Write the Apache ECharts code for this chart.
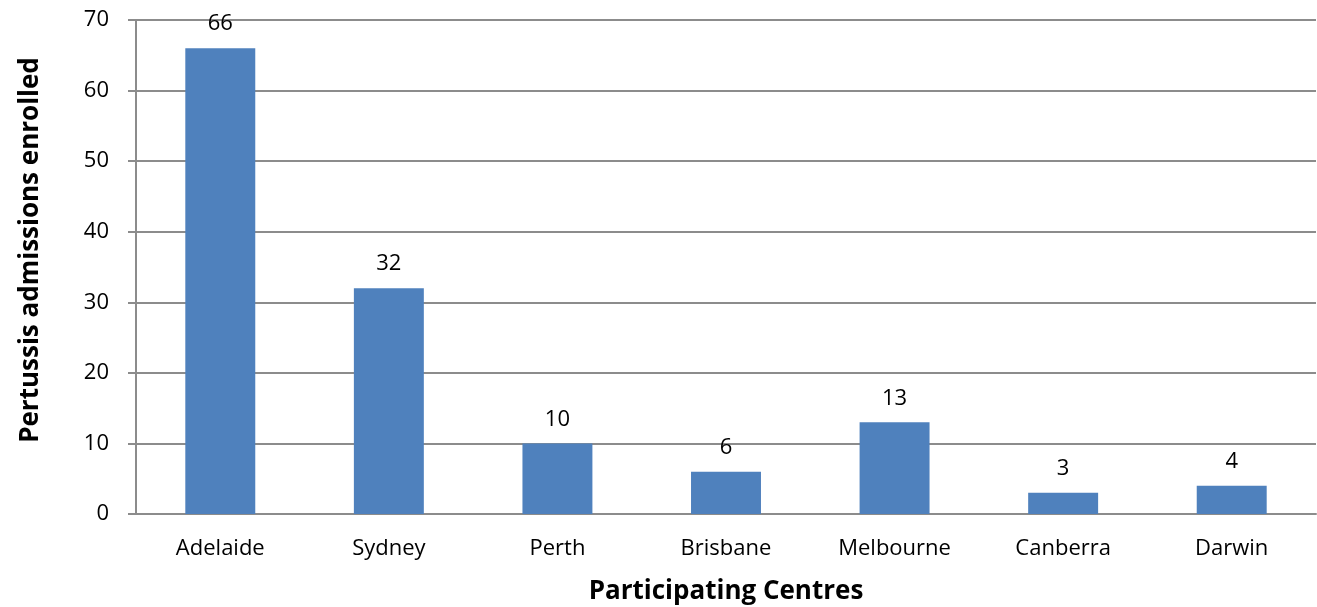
<!DOCTYPE html>
<html><head><meta charset="utf-8">
<script src="https://cdn.jsdelivr.net/npm/echarts@6/dist/echarts.min.js"></script>
<style>html,body{margin:0;padding:0;background:#fff}#c{width:1317px;height:607px}</style>
</head><body><div id="c"></div>
<script>
const categories = ["Adelaide","Sydney","Perth","Brisbane","Melbourne","Canberra","Darwin"];
const values = [66,32,10,6,13,3,4];
const yTicks = {min:0,max:70,interval:10};
const font = "'Open Sans', sans-serif";
const chart = echarts.init(document.getElementById('c'));
chart.setOption({
  animation:false,
  grid:{left:136,right:1,top:20,bottom:93,containLabel:false,outerBoundsMode:'none'},
  xAxis:{type:'category',data:categories,
    axisLine:{lineStyle:{color:'#8c8c8c',width:2}},
    axisTick:{show:false},
    axisLabel:{color:'#000',fontSize:22,fontFamily:font,margin:24},
    name:'Participating Centres',nameLocation:'middle',nameGap:65,
    nameTextStyle:{color:'#000',fontSize:26,fontWeight:'bold',fontFamily:font}},
  yAxis:{type:'value',min:yTicks.min,max:yTicks.max,interval:yTicks.interval,
    axisLine:{show:true,lineStyle:{color:'#8c8c8c',width:2}},
    axisTick:{show:true,length:8,lineStyle:{color:'#8c8c8c',width:2}},
    splitLine:{lineStyle:{color:'#8c8c8c',width:2}},
    axisLabel:{color:'#000',fontSize:22,fontFamily:font,margin:27},
    name:'Pertussis admissions enrolled',nameLocation:'middle',nameGap:92,
    nameTextStyle:{color:'#000',fontSize:26,fontWeight:'bold',fontFamily:font,padding:[0,0,0,34]}},
  series:[{type:'bar',data:values,barWidth:'41.5%',
    itemStyle:{color:'#4f81bd'},
    label:{show:true,position:'top',distance:13,color:'#000',fontSize:22,fontFamily:font}}]
});
</script></body></html>
